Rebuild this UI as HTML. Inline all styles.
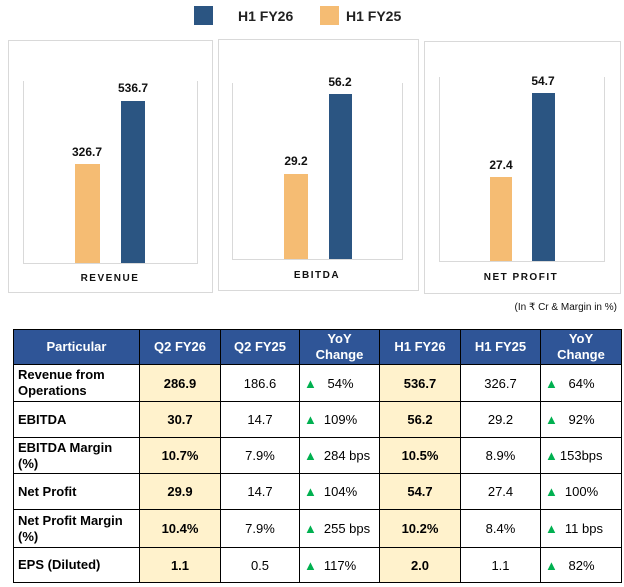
<!DOCTYPE html>
<html><head><meta charset="utf-8"><style>
body{margin:0;width:624px;height:587px;background:#fff;position:relative;overflow:hidden;font-family:"Liberation Sans",sans-serif}
table{position:absolute;left:13px;top:329px;border-collapse:collapse;table-layout:fixed}
td,th{border:1.5px solid #000;font-size:13px;text-align:center;padding:0;overflow:hidden;white-space:nowrap}
th{background:#2F5597;color:#fff;font-weight:bold;line-height:16px;height:34px}
td{height:34px;color:#000}
td.l{text-align:left;padding-left:4px;font-weight:bold;line-height:16px;white-space:normal}
td.h{background:#FFF2CC;font-weight:bold}
.t{color:#00B050;font-size:13px;margin-right:7px}
td.y{text-align:left;padding-left:4px}
</style></head><body>
<svg width="624" height="330" style="position:absolute;left:0;top:0" font-family="Liberation Sans, sans-serif">
<rect x="194" y="6" width="19" height="19" fill="#2B5582"/>
<text x="238" y="21" font-size="14" font-weight="bold" fill="#222">H1 FY26</text>
<rect x="320" y="6" width="19" height="19" fill="#F5BC73"/>
<text x="346" y="21" font-size="14" font-weight="bold" fill="#222">H1 FY25</text>
<g fill="none" stroke="#d9d9d9" stroke-width="1">
<rect x="8.5" y="40.5" width="204" height="252"/>
<rect x="218.5" y="39.5" width="200" height="251"/>
<rect x="424.5" y="41.5" width="196" height="252"/>
<polyline points="23.5,81 23.5,263.5 197.5,263.5 197.5,81"/>
<polyline points="232.5,83 232.5,259.5 402.5,259.5 402.5,83"/>
<polyline points="439.5,77 439.5,261.5 604.5,261.5 604.5,77"/>
</g>
<rect x="75" y="164" width="25" height="99" fill="#F5BC73"/>
<rect x="121" y="101" width="24" height="162" fill="#2B5582"/>
<rect x="284" y="174" width="24" height="85" fill="#F5BC73"/>
<rect x="329" y="94" width="23" height="165" fill="#2B5582"/>
<rect x="490" y="177" width="22" height="84" fill="#F5BC73"/>
<rect x="532" y="93" width="23" height="168" fill="#2B5582"/>
<g font-size="12" font-weight="bold" fill="#111" text-anchor="middle">
<text x="87" y="156">326.7</text><text x="133" y="92">536.7</text>
<text x="296" y="165">29.2</text><text x="340" y="86">56.2</text>
<text x="501" y="169">27.4</text><text x="543" y="85">54.7</text>
</g>
<g font-size="10" font-weight="bold" fill="#111" text-anchor="middle" letter-spacing="1.5">
<text x="110" y="281">REVENUE</text><text x="317" y="278">EBITDA</text><text x="521" y="280">NET PROFIT</text>
</g>
<text x="617" y="310" font-size="10" fill="#111" text-anchor="end">(In ₹ Cr &amp; Margin in %)</text>
</svg>
<table>
<colgroup><col style="width:126px"><col style="width:81px"><col style="width:79px"><col style="width:80px"><col style="width:81px"><col style="width:80px"><col style="width:81px"></colgroup>
<tr><th>Particular</th><th>Q2 FY26</th><th>Q2 FY25</th><th>YoY<br>Change</th><th>H1 FY26</th><th>H1 FY25</th><th>YoY<br>Change</th></tr>
<tr style="height:37px"><td class="l">Revenue from<br>Operations</td><td class="h">286.9</td><td>186.6</td><td class="y"><span class="t">▲</span> 54%</td><td class="h">536.7</td><td>326.7</td><td class="y"><span class="t">▲</span> 64%</td></tr>
<tr style="height:36px"><td class="l">EBITDA</td><td class="h">30.7</td><td>14.7</td><td class="y"><span class="t">▲</span>109%</td><td class="h">56.2</td><td>29.2</td><td class="y"><span class="t">▲</span> 92%</td></tr>
<tr style="height:36px"><td class="l">EBITDA Margin<br>(%)</td><td class="h">10.7%</td><td>7.9%</td><td class="y"><span class="t">▲</span>284 bps</td><td class="h">10.5%</td><td>8.9%</td><td class="y"><span class="t" style="margin-right:2px">▲</span>153bps</td></tr>
<tr style="height:36px"><td class="l">Net Profit</td><td class="h">29.9</td><td>14.7</td><td class="y"><span class="t">▲</span>104%</td><td class="h">54.7</td><td>27.4</td><td class="y"><span class="t">▲</span>100%</td></tr>
<tr style="height:38px"><td class="l">Net Profit Margin<br>(%)</td><td class="h">10.4%</td><td>7.9%</td><td class="y"><span class="t">▲</span>255 bps</td><td class="h">10.2%</td><td>8.4%</td><td class="y"><span class="t">▲</span>11 bps</td></tr>
<tr style="height:35px"><td class="l">EPS (Diluted)</td><td class="h">1.1</td><td>0.5</td><td class="y"><span class="t">▲</span>117%</td><td class="h">2.0</td><td>1.1</td><td class="y"><span class="t">▲</span> 82%</td></tr>
</table>
</body></html>
